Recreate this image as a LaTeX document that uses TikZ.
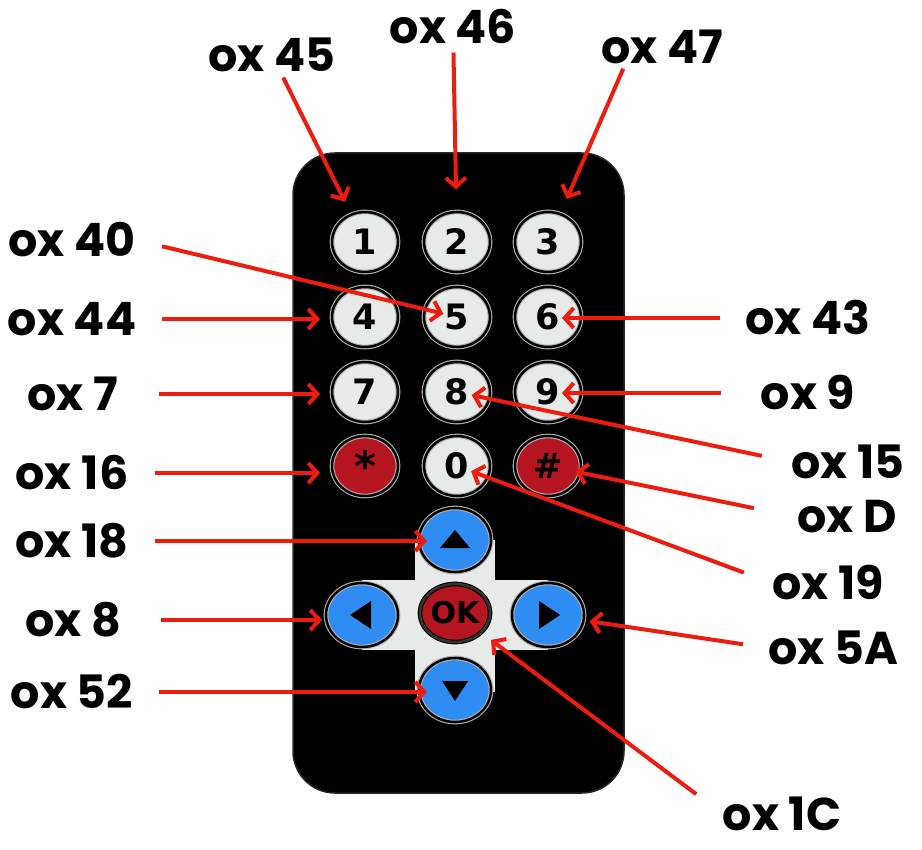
\documentclass[tikz,border=0pt]{standalone}
\usepackage{fontspec}
\setmainfont{Poppins}
\newfontfamily\keyfont{DejaVu Sans}
\usetikzlibrary{positioning, shapes.geometric, arrows.meta}
\definecolor{ptrred}{HTML}{EE1C0E}
\definecolor{keygrey}{HTML}{E6EBE9}
\definecolor{keyred}{HTML}{B5151E}
\definecolor{keyblue}{HTML}{2F8CF2}
\tikzset{
    code/.style={font=\bfseries\fontsize{46}{46}\selectfont, inner sep=0pt},
    ptr/.style={-{Straight Barb[length=9pt, width=20pt]}, line width=4pt, draw=ptrred},
    key/.style={ellipse, minimum width=66pt, minimum height=60pt, inner sep=0pt,
        fill=keygrey, draw=gray!60, double=black, double distance=2.5pt, line width=1.1pt,
        font=\keyfont\bfseries\fontsize{35}{35}\selectfont},
    redkey/.style={key, fill=keyred},
    navkey/.style={key, fill=keyblue, minimum width=72pt, minimum height=64pt},
    okkey/.style={key, fill=keyred, draw=black, double=black!80, minimum width=70pt, minimum height=58pt,
        font=\keyfont\bfseries\fontsize{30}{30}\selectfont}
}

\begin{document}
\begin{tikzpicture}[x=1pt, y=-1pt]
    \fill[white] (0,0) rectangle (922,850);
    \useasboundingbox (0,0) rectangle (922,850);

    % Remote body and the grey cross under the arrow keys
    \draw[fill=black, draw=black!85, line width=1.5pt, rounded corners=42pt] (293,153) rectangle (624,793);
    \fill[keygrey] (415,540) rectangle (495,692);
    \fill[keygrey] (362,580) rectangle (548,650);

    % Keys
    \node[key] (b1) at (365,242) {1};
    \node[key] (b2) at (457,242) {2};
    \node[key] (b3) at (548,242) {3};
    \node[key] (b4) at (365,317) {4};
    \node[key] (b5) at (457,317) {5};
    \node[key] (b6) at (548,317) {6};
    \node[key] (b7) at (365,392) {7};
    \node[key] (b8) at (457,392) {8};
    \node[key] (b9) at (548,392) {9};
    \node[redkey] (bstar) at (365,466) {\raisebox{-11pt}{\fontsize{42}{42}\selectfont *}};
    \node[key] (b0) at (457,466) {0};
    \node[redkey] (bhash) at (548,466) {\#};

    \node[navkey] (bup) at (455,540) {};
    \node[navkey] (bleft) at (362,615) {};
    \node[navkey] (bright) at (548,615) {};
    \node[navkey] (bdown) at (455,690) {};
    \node[okkey] (bok) at (455,613) {OK};

    % Triangles on the arrow keys
    \fill (bup.center) ++(-15,8) -- ++(30,0) -- ++(-15,-18) -- cycle;
    \fill (bdown.center) ++(-13,-9) -- ++(26,0) -- ++(-13,20) -- cycle;
    \fill (bleft.center) ++(9,-14) -- ++(0,28) -- ++(-21,-14) -- cycle;
    \fill (bright.center) ++(-9,-14) -- ++(0,28) -- ++(21,-14) -- cycle;

    % Codes
    \node[code] (l45) at (272,55) {ox 45};
    \node[code] (l46) at (453,27) {ox 46};
    \node[code] (l47) at (662,47) {ox 47};
    \node[code] (l40) at (72,240) {ox 40};
    \node[code] (l44) at (72,319) {ox 44};
    \node[code] (l7) at (73,394) {ox 7};
    \node[code] (l16) at (72,473) {ox 16};
    \node[code] (l18) at (72,541) {ox 18};
    \node[code] (l8) at (73,620) {ox 8};
    \node[code] (l52) at (72,692) {ox 52};
    \node[code] (l43) at (808,318) {ox 43};
    \node[code] (l9) at (808,393) {ox 9};
    \node[code] (l15) at (848,462) {ox 15};
    \node[code] (lD) at (847,517) {ox D};
    \node[code] (l19) at (828,583) {ox 19};
    \node[code] (l5A) at (833,648) {ox 5A};
    \node[code] (l1C) at (782,814) {ox 1C};

    % Pointers
    \draw[ptr, shorten <=6pt, shorten >=14pt] (l45) -- (b1);
    \draw[ptr, shorten <=8pt, shorten >=22pt] (l46) -- (b2);
    \draw[ptr, shorten <=5pt, shorten >=16pt] (l47.205) -- (b3);
    \draw[ptr, shorten <=27pt, shorten >=14pt] (l40.east) -- (b5.center);
    \draw[ptr, shorten <=26pt, shorten >=45pt] (l44) -- (l44 -| b4.center);
    \draw[ptr, shorten <=40pt, shorten >=45pt] (l7) -- (l7 -| b7.center);
    \draw[ptr, shorten <=26pt, shorten >=45pt] (l16) -- (l16 -| bstar.center);
    \draw[ptr, shorten <=26pt, shorten >=28pt] (l18) -- (l18 -| bup.center);
    \draw[ptr, shorten <=40pt, shorten >=40pt] (l8) -- (l8 -| bleft.center);
    \draw[ptr, shorten <=26pt, shorten >=28pt] (l52) -- (l52 -| bdown.center);
    \draw[ptr, shorten <=25pt, shorten >=14pt] (l43) -- (l43 -| b6.center);
    \draw[ptr, shorten <=40pt, shorten >=14pt] (l9) -- (l9 -| b9.center);
    \draw[ptr, shorten <=30pt, shorten >=15pt] (l15.west) -- (b8.center);
    \draw[ptr, shorten <=44pt, shorten >=28pt] (lD.west) -- (bhash.center);
    \draw[ptr, shorten <=30pt, shorten >=15pt] (l19.west) -- (b0.center);
    \draw[ptr, shorten <=25pt, shorten >=42pt] (l5A.west) -- (bright.center);
    \draw[ptr, shorten <=33pt, shorten >=45pt] (l1C.west) -- (bok.center);
\end{tikzpicture}
\end{document}
